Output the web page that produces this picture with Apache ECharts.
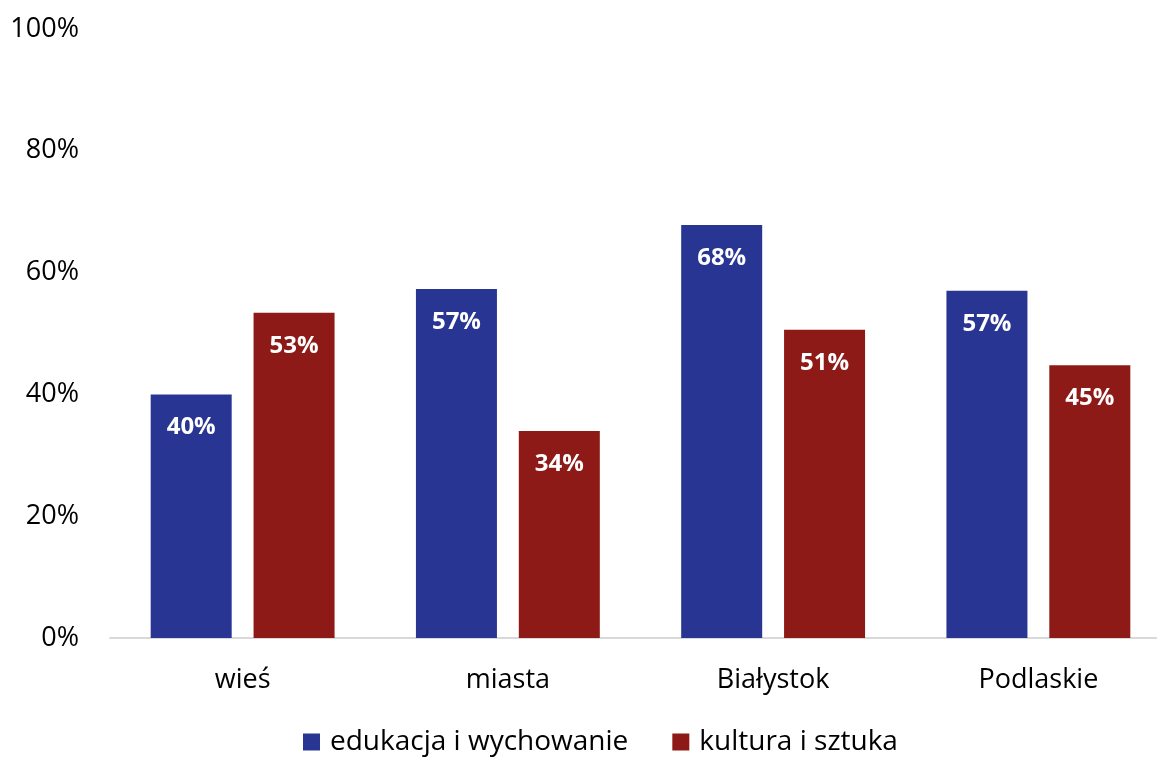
<!DOCTYPE html>
<html>

<head>
    <meta http-equiv="Content-Type" content="text/html; charset=utf-8">
    <title>edukacja i kultura</title>
    <script src="https://cdn.jsdelivr.net/npm/echarts@6/dist/echarts.min.js"></script>
    <style>
        html, body { margin: 0; padding: 0; background: #fff; }
    </style>
</head>

<body>
    <div id="chart" style="width: 1157px; height: 758px;"></div>
    <script type="text/javascript">
        var categories = ['wieś', 'miasta', 'Białystok', 'Podlaskie'];
        var edukacja = [40, 57.3, 67.8, 57];
        var kultura = [53.4, 34, 50.6, 44.8];
        var yTicks = [0, 20, 40, 60, 80, 100];

        var font = '"Open Sans", sans-serif';
        var chart = echarts.init(document.getElementById('chart'));

        var barLabel = {
            show: true,
            position: 'insideTop',
            distance: 21,
            color: '#fff',
            fontWeight: 'bold',
            fontSize: 24,
            fontFamily: font,
            formatter: function (p) {
                return Math.round(p.value) + '%';
            }
        };

        option = {
            animation: false,
            textStyle: { fontFamily: font },
            grid: {
                left: 110,
                right: -14,
                top: 29,
                bottom: 120,
                outerBoundsMode: 'none'
            },
            legend: {
                bottom: -3,
                left: 298,
                itemWidth: 17,
                itemHeight: 17,
                itemGap: 44,
                icon: 'rect',
                textStyle: {
                    fontSize: 28,
                    color: '#000',
                    fontFamily: font,
                    padding: [0, 0, 0, 5]
                },
                data: ['edukacja i wychowanie', 'kultura i sztuka']
            },
            xAxis: {
                type: 'category',
                data: categories,
                axisLine: { lineStyle: { color: '#d9d9d9', width: 2 } },
                axisTick: { show: false },
                axisLabel: { fontSize: 27, color: '#000', margin: 29, fontFamily: font }
            },
            yAxis: {
                type: 'value',
                min: yTicks[0],
                max: yTicks[yTicks.length - 1],
                interval: 20,
                splitLine: { show: false },
                axisLine: { show: false },
                axisLabel: {
                    fontSize: 27,
                    color: '#000',
                    margin: 31,
                    fontFamily: font,
                    formatter: '{value}%'
                }
            },
            series: [
                {
                    name: 'edukacja i wychowanie',
                    type: 'bar',
                    data: edukacja,
                    barWidth: 81,
                    barGap: '27%',
                    itemStyle: { color: '#283593' },
                    label: barLabel
                },
                {
                    name: 'kultura i sztuka',
                    type: 'bar',
                    data: kultura,
                    barWidth: 81,
                    itemStyle: { color: '#8e1a17' },
                    label: barLabel
                }
            ]
        };

        chart.setOption(option);
    </script>
</body>

</html>
